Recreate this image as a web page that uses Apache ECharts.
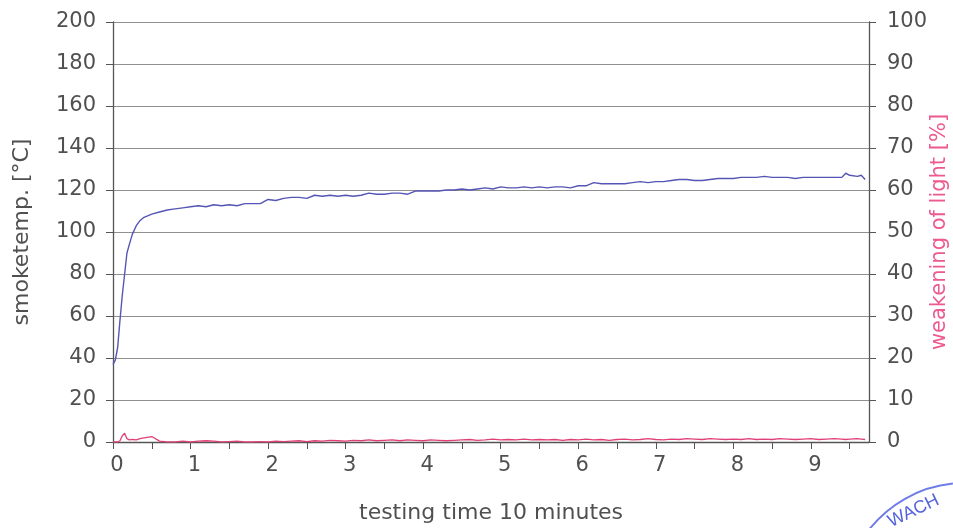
<!DOCTYPE html>
<html><head><meta charset="utf-8">
<script src="https://cdn.jsdelivr.net/npm/echarts@6/dist/echarts.min.js"></script>
<style>html,body{margin:0;padding:0;background:#fff}#c{width:953px;height:528px}</style>
</head><body><div id="c"></div>
<script>
const times = [0,0.03,0.06,0.09,0.12,0.15,0.18,0.21,0.25,0.3,0.35,0.4,0.5,0.6,0.7,0.8,0.9,1.0,
1.1,1.2,1.3,1.4,1.5,1.6,1.7,1.8,1.9,2.0,2.1,2.2,2.3,2.4,2.5,2.6,2.7,2.8,2.9,3.0,
3.1,3.2,3.3,3.4,3.5,3.6,3.7,3.8,3.9,4.0,4.1,4.2,4.3,4.4,4.5,4.6,4.7,4.8,4.9,5.0,
5.1,5.2,5.3,5.4,5.5,5.6,5.7,5.8,5.9,6.0,6.1,6.2,6.3,6.4,6.5,6.6,6.7,6.8,6.9,7.0,
7.1,7.2,7.3,7.4,7.5,7.6,7.7,7.8,7.9,8.0,8.1,8.2,8.3,8.4,8.5,8.6,8.7,8.8,8.9,9.0,
9.1,9.2,9.3,9.4,9.45,9.5,9.6,9.65,9.7];
const smokeTemp = [37,39,45,58,70,80,90,94,99,103,105.5,107,108.5,109.5,110.5,111,111.5,112,
112.5,112,113,112.5,113,112.5,113.5,113.5,113.5,115.5,115,116,116.5,116.5,116,117.5,117,117.5,117,117.5,
117,117.5,118.5,118,118,118.5,118.5,118,119.5,119.5,119.5,119.5,120,120,120.5,120,120.5,121,120.5,121.5,
121,121,121.5,121,121.5,121,121.5,121.5,121,122,122,123.5,123,123,123,123,123.5,124,123.5,124,
124,124.5,125,125,124.5,124.5,125,125.5,125.5,125.5,126,126,126,126.5,126,126,126,125.5,126,126,
126,126,126,126,128,127,126.5,127,125];
const lightWeakening = [0,0,0,0.3,1.5,2.1,0.8,0.5,0.6,0.5,0.8,1.0,1.3,0.2,0,0,0.2,0,
0.2,0.3,0.2,0,0.1,0.2,0,0,0.1,0,0.2,0.1,0.2,0.3,0.1,0.3,0.2,0.4,0.3,0.2,
0.4,0.3,0.5,0.3,0.4,0.5,0.3,0.5,0.4,0.3,0.5,0.4,0.3,0.4,0.5,0.6,0.4,0.5,0.7,0.5,
0.6,0.5,0.7,0.5,0.6,0.5,0.6,0.4,0.6,0.5,0.7,0.5,0.6,0.4,0.6,0.7,0.5,0.6,0.8,0.6,
0.5,0.7,0.6,0.8,0.7,0.6,0.8,0.7,0.6,0.7,0.6,0.8,0.6,0.7,0.6,0.8,0.7,0.6,0.7,0.8,
0.6,0.7,0.8,0.7,0.6,0.7,0.8,0.7,0.6];
const xTickLabels = ['0','1','2','3','4','5','6','7','8','9'];

const txt = '#505050', font = 'DejaVu Sans';
const chart = echarts.init(document.getElementById('c'));
chart.setOption({
  animation: false,
  grid: {left: 113, right: 84, top: 22, bottom: 86, containLabel: false, outerBoundsMode: 'none'},
  xAxis: {
    type: 'value', min: 0, max: 9.75, interval: 0.5,
    name: 'testing time 10 minutes', nameLocation: 'middle', nameGap: 60, nameMoveOverlap: false,
    nameTextStyle: {color: txt, fontSize: 22, fontFamily: font},
    axisLine: {lineStyle: {color: '#555', width: 1.3}},
    axisTick: {show: true, length: 7, lineStyle: {color: '#555'}},
    axisLabel: {color: txt, fontSize: 21, fontFamily: font, margin: 13, padding: [0, 0, 0, 8],
      formatter: v => (Number.isInteger(v) && xTickLabels[v] !== undefined) ? xTickLabels[v] : '',
      showMaxLabel: false},
    splitLine: {show: false}
  },
  yAxis: [{
    type: 'value', min: 0, max: 200, interval: 20,
    name: 'smoketemp. [°C]', nameLocation: 'middle', nameGap: 80, nameMoveOverlap: false,
    nameTextStyle: {color: txt, fontSize: 22, fontFamily: font},
    axisLine: {show: true, lineStyle: {color: '#555', width: 1.3}},
    axisTick: {show: true, length: 7, lineStyle: {color: '#555'}},
    axisLabel: {color: txt, fontSize: 21, fontFamily: font, margin: 17},
    splitLine: {show: true, lineStyle: {color: '#909090', width: 1}}
  }, {
    type: 'value', min: 0, max: 100, interval: 10, position: 'right',
    name: 'weakening of light [%]', nameLocation: 'middle', nameGap: 60, nameMoveOverlap: false,
    nameTextStyle: {color: '#ec5a8f', fontSize: 21, fontFamily: font},
    axisLine: {show: true, lineStyle: {color: '#555', width: 1.3}},
    axisTick: {show: true, length: 7, lineStyle: {color: '#555'}},
    axisLabel: {color: txt, fontSize: 21, fontFamily: font, margin: 18},
    splitLine: {show: false}
  }],
  series: [{
    type: 'line', yAxisIndex: 0, showSymbol: false,
    data: times.map((t, i) => [t, smokeTemp[i]]),
    lineStyle: {color: '#5555b5', width: 1.4}
  }, {
    type: 'line', yAxisIndex: 1, showSymbol: false,
    data: times.map((t, i) => [t, lightWeakening[i]]),
    lineStyle: {color: '#e0407a', width: 1.3}
  }],
  graphic: [{
    type: 'arc', silent: true,
    shape: {cx: 965, cy: 605, r: 122, startAngle: -2.5, endAngle: -1.67, clockwise: true},
    style: {stroke: '#6f7de6', lineWidth: 2, fill: null}
  }, {
    type: 'text', x: 893, y: 531, rotation: 0.45,
    style: {text: 'WACH', fill: '#5563dd', fontSize: 18, fontFamily: 'Liberation Sans', verticalAlign: 'bottom'}
  }]
});
</script></body></html>
